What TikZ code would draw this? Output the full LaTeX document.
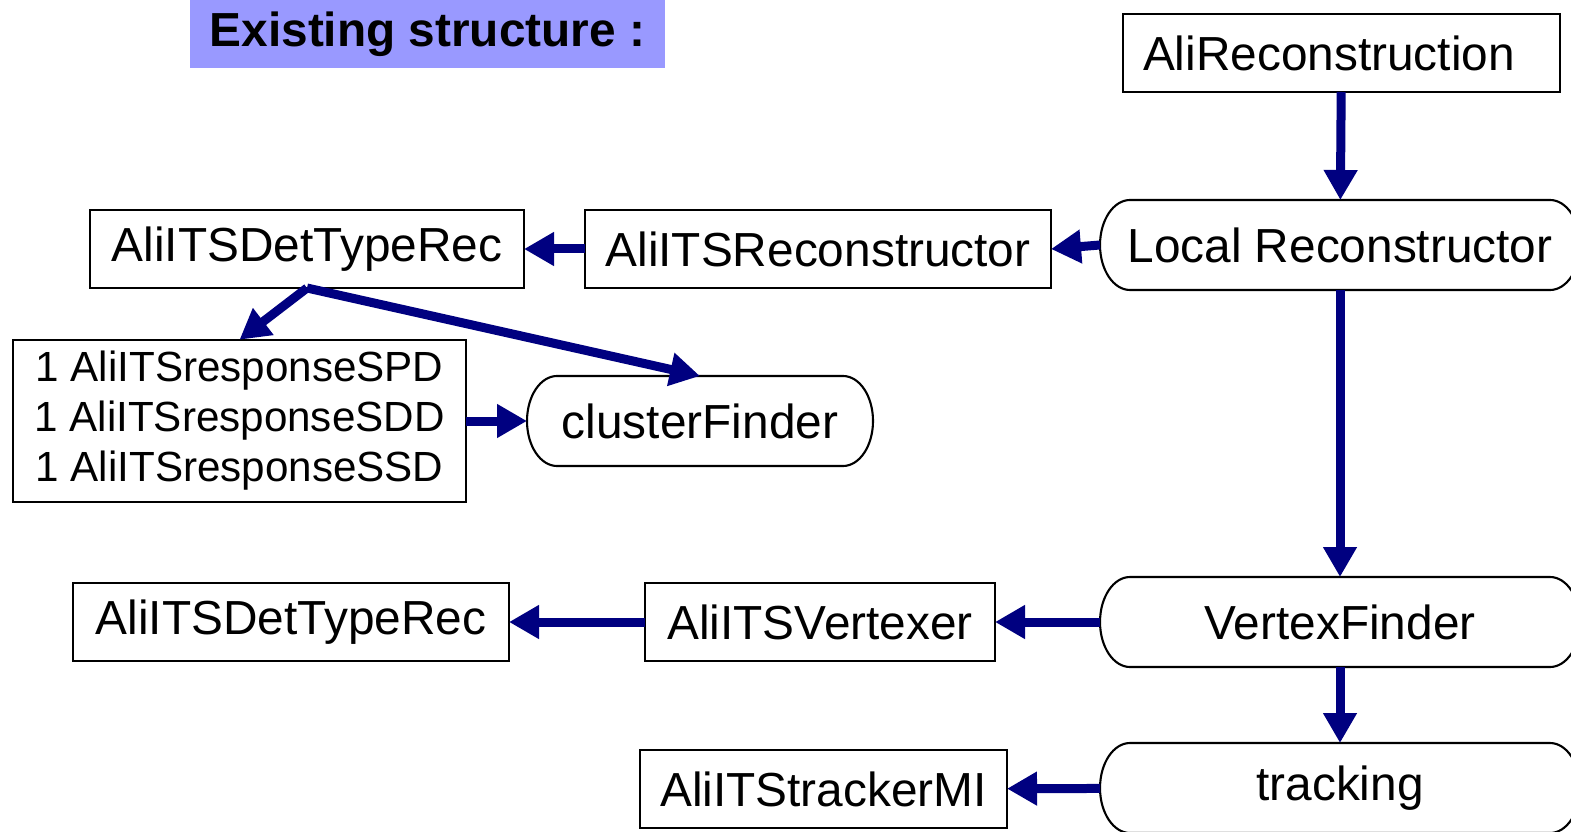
\documentclass[tikz,border=0pt]{standalone}
\usepackage{fontspec}
\setmainfont{Liberation Sans}
\usetikzlibrary{arrows.meta,positioning,calc}
\definecolor{arrowblue}{RGB}{0,0,128}
\definecolor{titleblue}{RGB}{153,153,255}
% outline of a round-ended box around a named node
\newcommand{\stadium}[1]{\draw[line width=0.6pt] ([xshift=0.3cm]#1.north west) -- ([xshift=-0.3cm]#1.north east) arc[start angle=90,end angle=-90,x radius=0.3cm,y radius=0.45cm] -- ([xshift=0.3cm]#1.south west) arc[start angle=270,end angle=90,x radius=0.3cm,y radius=0.45cm] -- cycle;}

\begin{document}
\begin{tikzpicture}
  \tikzstyle{cls}=[draw, line width=0.6pt, outer sep=0pt, minimum height=0.78cm, font=\fontsize{13.6pt}{16pt}\selectfont]
  \tikzstyle{stage}=[outer sep=0pt, minimum height=0.9cm, minimum width=4.8cm, font=\fontsize{13.6pt}{16pt}\selectfont]
  \tikzstyle{flow}=[-{Triangle[length=0.3cm,width=0.32cm]}, line width=0.09cm, arrowblue]
  \useasboundingbox (0,0) rectangle (15.71,8.31);

  % Titel
  \node[fill=titleblue, minimum width=4.75cm, minimum height=0.68cm, font=\fontsize{13.6pt}{16pt}\selectfont\bfseries] (title) at (4.275,7.97) {Existing structure :};

  % Ablauf rechts
  \node[cls, minimum width=4.37cm] (arec) at (13.415,7.78) {AliReconstruction\hspace*{0.25cm}};
  \node[stage] (lrec) at (13.40,5.86) {Local Reconstructor};
  \node[stage] (vf) at (13.40,2.09) {VertexFinder};
  \node[stage] (trk) at (13.40,0.43) {tracking};
  \stadium{lrec}
  \stadium{vf}
  \stadium{trk}

  % Klassen
  \node[cls, minimum width=4.66cm] (itsrec) at (8.18,5.82) {AliITSReconstructor};
  \node[cls, minimum width=4.34cm] (dtr1) at (3.07,5.82) {AliITSDetTypeRec};
  \node[cls, minimum width=4.53cm, minimum height=1.52cm, align=center, font=\fontsize{12pt}{14.2pt}\selectfont] (resp) at (2.395,4.10) {1 AliITSresponseSPD\\1 AliITSresponseSDD\\1 AliITSresponseSSD};
  \node[stage, minimum width=3.46cm] (cf) at (7.00,4.10) {clusterFinder};
  \stadium{cf}
  \node[cls, minimum width=3.5cm] (vtx) at (8.20,2.09) {AliITSVertexer};
  \node[cls, minimum width=4.36cm] (dtr2) at (2.91,2.09) {AliITSDetTypeRec};
  \node[cls, minimum width=3.67cm] (trmi) at (8.235,0.42) {AliITStrackerMI};

  % Pfeile
  \draw[flow] (arec) -- (lrec);
  \draw[flow] (lrec) -- (vf);
  \draw[flow] (vf) -- (trk);
  \draw[flow] (lrec.west) -- (itsrec.east);
  \draw[flow] (itsrec) -- (dtr1);
  \draw[flow] (dtr1.south) -- (resp.north);
  \draw[flow] (dtr1.south) -- (cf.north);
  \draw[flow] (resp) -- (cf);
  \draw[flow] (vf) -- (vtx);
  \draw[flow] (vtx) -- (dtr2);
  \draw[flow] (trk) -- (trmi);
\end{tikzpicture}
\end{document}
